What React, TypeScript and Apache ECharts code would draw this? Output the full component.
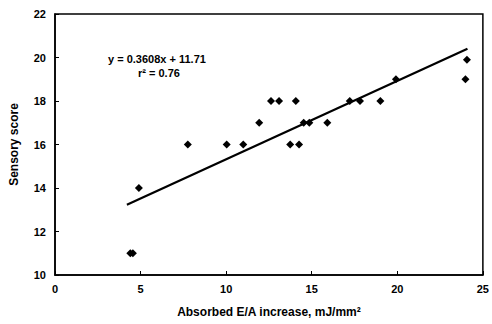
import React, { useEffect, useRef } from "react";
import * as echarts from "echarts";

const xValues = [4.4, 4.55, 4.9, 7.76, 10.03, 11.0, 11.93, 12.62, 13.09, 14.07, 13.74, 14.26, 14.53, 14.86, 15.91, 17.22, 17.82, 19.01, 19.92, 23.98, 24.07];
const yValues = [11, 11, 14, 16, 16, 16, 17, 18, 18, 18, 16, 16, 17, 17, 17, 18, 18, 18, 19, 19, 19.9];
const trendX = [4.2, 24.1];
const trendY = [13.225, 20.405];
const xTicks = [0, 5, 10, 15, 20, 25];
const yTicks = [10, 12, 14, 16, 18, 20, 22];

export default function App() {
  const ref = useRef<HTMLDivElement>(null);
  useEffect(() => {
    const chart = echarts.init(ref.current!, null, { renderer: "svg" });
    const font = "'Liberation Sans', Arial, sans-serif";
    chart.setOption({
      animation: false,
      backgroundColor: "#fff",
      grid: { left: 54, right: 5, top: 14, bottom: 49, show: true, borderColor: "#000", borderWidth: 1.5, backgroundColor: "transparent" },
      xAxis: {
        type: "value", min: xTicks[0], max: xTicks[xTicks.length - 1], interval: 5,
        name: "Absorbed E/A increase, mJ/mm²", nameLocation: "middle", nameGap: 31,
        nameTextStyle: { fontFamily: font, fontWeight: "bold", fontSize: 12, color: "#000" },
        axisLine: { lineStyle: { color: "#000", width: 1.5 } },
        axisTick: { inside: true, length: 4, lineStyle: { color: "#000" } },
        axisLabel: { fontFamily: font, fontWeight: "bold", fontSize: 11, color: "#000", margin: 8 },
        splitLine: { show: false },
      },
      yAxis: {
        type: "value", min: yTicks[0], max: yTicks[yTicks.length - 1], interval: 2,
        name: "Sensory score", nameLocation: "middle", nameGap: 35,
        nameTextStyle: { fontFamily: font, fontWeight: "bold", fontSize: 12, color: "#000" },
        axisLine: { lineStyle: { color: "#000", width: 1.5 } },
        axisTick: { inside: true, length: 4, lineStyle: { color: "#000" } },
        axisLabel: { fontFamily: font, fontWeight: "bold", fontSize: 11, color: "#000", margin: 9 },
        splitLine: { show: false },
      },
      series: [
        {
          type: "line", data: trendX.map((x, i) => [x, trendY[i]]), symbol: "none",
          lineStyle: { color: "#000", width: 2.2 }, z: 2,
        },
        {
          type: "scatter", data: xValues.map((x, i) => [x, yValues[i]]), symbol: "diamond", symbolSize: 8,
          itemStyle: { color: "#000", opacity: 1 }, z: 3,
        },
      ],
      graphic: [
        { type: "text", left: 108, top: 53, style: { text: "y = 0.3608x + 11.71", fontFamily: font, fontWeight: "bold", fontSize: 11, fill: "#000" } },
        { type: "text", left: 138, top: 67, style: { text: "r² = 0.76", fontFamily: font, fontWeight: "bold", fontSize: 11, fill: "#000" } },
      ],
    });
    return () => chart.dispose();
  }, []);
  return <div ref={ref} style={{ width: 492, height: 324, position: "absolute", left: 0, top: 0 }} />;
}
